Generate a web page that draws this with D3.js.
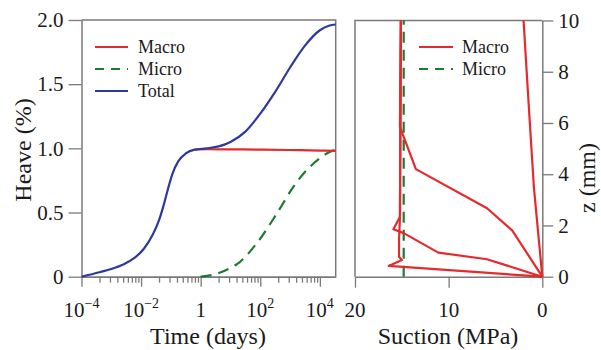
<!DOCTYPE html>
<html>
<head>
<meta charset="utf-8">
<script src="https://cdn.jsdelivr.net/npm/d3@7/dist/d3.min.js"></script>
<style>
body { margin: 0; background: #fff; }
text { font-family: "Liberation Serif", "Times New Roman", serif; fill: #1a1a1a; }
</style>
</head>
<body>
<svg id="chart" width="601" height="350"></svg>
<script>
// left panel: heave vs time
var timeTotal  = [1e-4, 4e-4, 1e-3, 2.5e-3, 6.3e-3, 0.0126, 0.025, 0.04, 0.056, 0.079, 0.112, 0.178, 0.316, 0.63, 1.58, 4, 10, 31.6, 100, 316, 1000, 3162, 1e4, 2e4, 3.4e4];
var heaveTotal = [0, 0.035, 0.06, 0.095, 0.15, 0.22, 0.33, 0.44, 0.55, 0.68, 0.80, 0.90, 0.96, 0.99, 1.0, 1.015, 1.05, 1.13, 1.27, 1.44, 1.63, 1.80, 1.92, 1.955, 1.965];
var timeMacro  = [0.63, 1.58, 10, 100, 1000, 1e4, 3.4e4];
var heaveMacro = [0.99, 0.993, 0.992, 0.99, 0.987, 0.983, 0.98];
var timeMicro  = [1, 3.2, 12, 17, 76, 355, 1290, 2750, 6000, 17000, 3.4e4];
var heaveMicro = [0, 0.02, 0.078, 0.10, 0.26, 0.49, 0.70, 0.80, 0.88, 0.96, 0.99];

var heaveTicks = [0, 0.5, 1, 1.5, 2];
var timeMajor  = [1e-4, 1e-2, 1, 1e2, 1e4];
var timeExp    = ["\u22124", "\u22122", "", "2", "4"];
var minorMult  = [4, 9, 16, 25, 36, 49, 64, 81];

// right panel: suction profiles (macro) and micro suction
var zA = [0, 0.42, 0.65, 0.78, 1.43, 2.3, 10];
var suctionA = [0, 16.4, 15.0, 15.3, 15.3, 15.2, 15.1];
var zB = [0, 0.68, 0.94, 1.70, 1.85, 2.34, 10];
var suctionB = [0, 5.9, 11.1, 14.8, 15.9, 15.2, 15.1];
var zC = [0, 1.8, 2.67, 4.2, 5.85, 10];
var suctionC = [0, 3.2, 5.9, 13.5, 15.2, 15.1];
var zD = [0, 3.5, 7, 10];
var suctionD = [0, 0.9, 1.5, 2.0];
var zMicro = [0, 10];
var suctionMicro = [14.8, 14.8];

var suctionTicks = [20, 10, 0];
var zTicks = [0, 2, 4, 6, 8, 10];

var red = "#e52a2e", green = "#1e7a32", blue = "#2c3a9e", grey = "#7a7a7a";

var svg = d3.select("#chart");

// scales
var x = d3.scaleLog().domain([1e-4, 3.4e4]).range([81.5, 335.7]);
var y = d3.scaleLinear().domain([0, 2]).range([276.7, 20]);
var xs = d3.scaleLinear().domain([20, 0]).range([355, 542.3]);
var ys = d3.scaleLinear().domain([0, 10]).range([276.7, 20.5]);

function zip(a, b) { return a.map(function(v, i) { return [v, b[i]]; }); }

function styleAxis(g) {
  g.selectAll(".domain").attr("stroke", grey).attr("stroke-width", 1.5);
  g.selectAll(".tick line").attr("stroke", grey).attr("stroke-width", 1.3);
  g.selectAll("text").attr("font-size", 21).attr("fill", "#1a1a1a");
}

/** left panel **/
// frame
svg.append("path")
  .attr("d", "M" + x.range()[0] + "," + y(2) + "H" + x.range()[1] + "V" + y(0))
  .attr("fill", "none").attr("stroke", grey).attr("stroke-width", 1.5);

var yAxis = svg.append("g").attr("transform", "translate(" + x.range()[0] + ",0)")
  .call(d3.axisLeft(y).tickValues(heaveTicks).tickSize(13).tickPadding(5).tickSizeOuter(0)
    .tickFormat(function(d) { return d === 0 ? "0" : d3.format(".1f")(d); }));
styleAxis(yAxis);

var minorTicks = [];
timeMajor.forEach(function(m) {
  minorMult.forEach(function(k) { if (m * k < 3.4e4) minorTicks.push(m * k); });
});
var xMinor = svg.append("g").attr("transform", "translate(0," + y(0) + ")")
  .call(d3.axisBottom(x).tickValues(minorTicks).tickSize(6).tickSizeOuter(0).tickFormat(""));
styleAxis(xMinor);
var xMajor = svg.append("g").attr("transform", "translate(0," + y(0) + ")")
  .call(d3.axisBottom(x).tickValues(timeMajor).tickSize(10).tickSizeOuter(0).tickFormat(""));
styleAxis(xMajor);

var majLab = svg.append("g").selectAll("text").data(timeMajor).enter().append("text")
  .attr("x", function(d) { return x(d); })
  .attr("y", 317)
  .attr("text-anchor", "middle")
  .attr("font-size", 21);
majLab.each(function(d, i) {
  var t = d3.select(this);
  if (timeExp[i] === "") { t.text("1"); return; }
  t.append("tspan").text("10");
  t.append("tspan").attr("dy", -9).attr("font-size", 14).text(timeExp[i]);
});

svg.append("text").attr("x", 208).attr("y", 344).attr("text-anchor", "middle")
  .attr("font-size", 24).text("Time (days)");
svg.append("text").attr("transform", "translate(31,150) rotate(-90)")
  .attr("text-anchor", "middle").attr("font-size", 24).text("Heave (%)");

var line = d3.line()
  .x(function(d) { return x(d[0]); })
  .y(function(d) { return y(d[1]); })
  .curve(d3.curveMonotoneX);

svg.append("path").datum(zip(timeMicro, heaveMicro)).attr("d", line)
  .attr("fill", "none").attr("stroke", green).attr("stroke-width", 2.2).attr("stroke-dasharray", "11,7");
svg.append("path").datum(zip(timeMacro, heaveMacro)).attr("d", line)
  .attr("fill", "none").attr("stroke", red).attr("stroke-width", 2.2);
svg.append("path").datum(zip(timeTotal, heaveTotal)).attr("d", line)
  .attr("fill", "none").attr("stroke", blue).attr("stroke-width", 2.2);

// legend
var legendL = [
  {name: "Macro", color: red, dash: null},
  {name: "Micro", color: green, dash: "9,7"},
  {name: "Total", color: blue, dash: null}
];
var lgL = svg.append("g").selectAll("g").data(legendL).enter().append("g")
  .attr("transform", function(d, i) { return "translate(95," + (47 + i * 22) + ")"; });
lgL.append("line").attr("x1", 0).attr("x2", 33)
  .attr("stroke", function(d) { return d.color; }).attr("stroke-width", 2.2)
  .attr("stroke-dasharray", function(d) { return d.dash; });
lgL.append("text").attr("x", 43).attr("dy", "0.35em").attr("font-size", 18)
  .text(function(d) { return d.name; });

/** right panel **/
svg.append("path")
  .attr("d", "M" + xs(20) + "," + ys(0) + "V" + ys(10) + "H" + xs(0))
  .attr("fill", "none").attr("stroke", grey).attr("stroke-width", 1.5);

var zAxis = svg.append("g").attr("transform", "translate(" + xs(0) + ",0)")
  .call(d3.axisRight(ys).tickValues(zTicks).tickSize(11).tickPadding(5).tickSizeOuter(0));
styleAxis(zAxis);

var sAxis = svg.append("g").attr("transform", "translate(0," + ys(0) + ")")
  .call(d3.axisBottom(xs).tickValues(suctionTicks).tickSize(11).tickSizeOuter(0).tickFormat(""));
styleAxis(sAxis);
svg.append("g").selectAll("text").data(suctionTicks).enter().append("text")
  .attr("x", function(d) { return xs(d); }).attr("y", 317)
  .attr("text-anchor", "middle").attr("font-size", 21)
  .text(function(d) { return d; });

svg.append("text").attr("x", 448).attr("y", 344).attr("text-anchor", "middle")
  .attr("font-size", 24).text("Suction (MPa)");
svg.append("text").attr("transform", "translate(595,178) rotate(-90)")
  .attr("text-anchor", "middle").attr("font-size", 24).text("z (mm)");

var profile = d3.line()
  .x(function(d) { return xs(d[0]); })
  .y(function(d) { return ys(d[1]); });

svg.append("path").datum(zip(suctionMicro, zMicro)).attr("d", profile)
  .attr("fill", "none").attr("stroke", green).attr("stroke-width", 2.2).attr("stroke-dasharray", "11,7");

[[suctionA, zA], [suctionB, zB], [suctionC, zC], [suctionD, zD]].forEach(function(p) {
  svg.append("path").datum(zip(p[0], p[1])).attr("d", profile)
    .attr("fill", "none").attr("stroke", red).attr("stroke-width", 2.2)
    .attr("stroke-linejoin", "round");
});

var legendR = [
  {name: "Macro", color: red, dash: null},
  {name: "Micro", color: green, dash: "9,7"}
];
var lgR = svg.append("g").selectAll("g").data(legendR).enter().append("g")
  .attr("transform", function(d, i) { return "translate(419," + (47 + i * 22) + ")"; });
lgR.append("line").attr("x1", 0).attr("x2", 34)
  .attr("stroke", function(d) { return d.color; }).attr("stroke-width", 2.2)
  .attr("stroke-dasharray", function(d) { return d.dash; });
lgR.append("text").attr("x", 43).attr("dy", "0.35em").attr("font-size", 18)
  .text(function(d) { return d.name; });
</script>
</body>
</html>
